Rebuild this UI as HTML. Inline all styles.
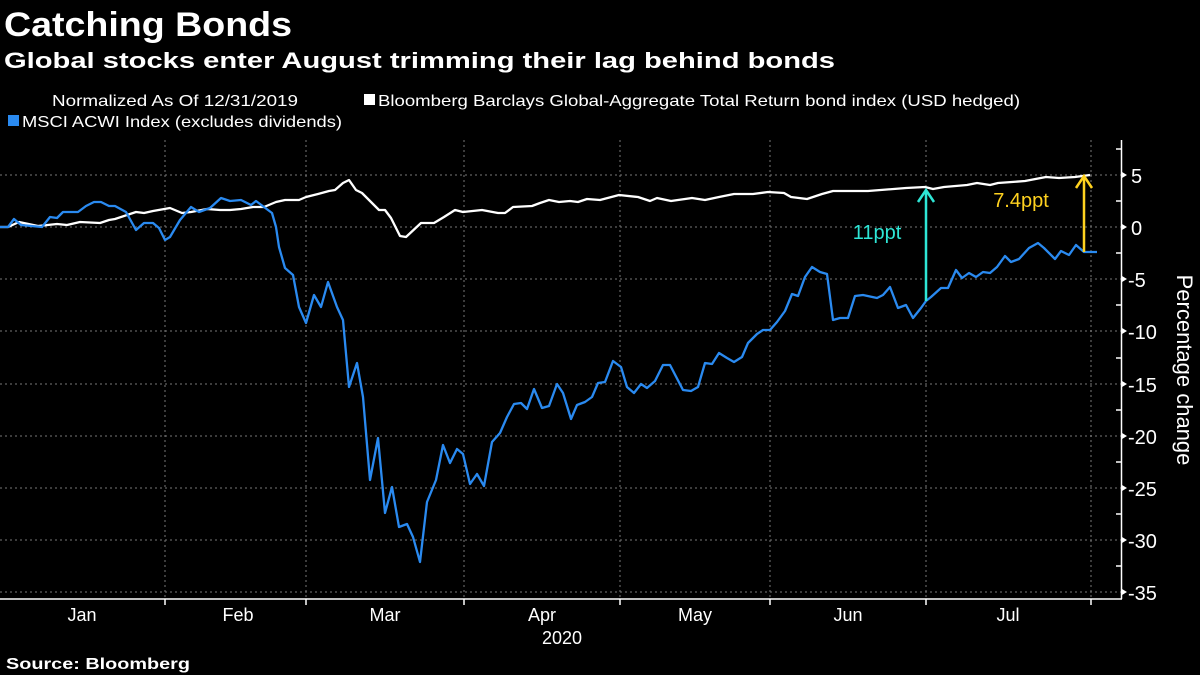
<!DOCTYPE html>
<html><head><meta charset="utf-8"><style>
html,body{margin:0;padding:0;background:#000;}
svg{display:block;}
text{font-family:"Liberation Sans",sans-serif;fill:#fff;}
</style></head><body>
<svg width="1200" height="675" viewBox="0 0 1200 675" xmlns="http://www.w3.org/2000/svg">
<rect width="1200" height="675" fill="#000"/>
<text x="4" y="36" font-size="34" font-weight="bold" textLength="288" lengthAdjust="spacingAndGlyphs">Catching Bonds</text>
<text x="4" y="68" font-size="22" font-weight="bold" textLength="831" lengthAdjust="spacingAndGlyphs">Global stocks enter August trimming their lag behind bonds</text>
<text x="52" y="106" font-size="16" textLength="246" lengthAdjust="spacingAndGlyphs">Normalized As Of 12/31/2019</text>
<rect x="364" y="94" width="11" height="11" fill="#fff"/>
<text x="378" y="106" font-size="16" textLength="642" lengthAdjust="spacingAndGlyphs">Bloomberg Barclays Global-Aggregate Total Return bond index (USD hedged)</text>
<rect x="8" y="115" width="11" height="11" fill="#2a8af0"/>
<text x="22" y="127" font-size="16" textLength="320" lengthAdjust="spacingAndGlyphs">MSCI ACWI Index (excludes dividends)</text>
<g stroke="#777" stroke-width="1" stroke-dasharray="2,3">
<line x1="0" y1="175" x2="1121" y2="175"/>
<line x1="0" y1="227" x2="1121" y2="227"/>
<line x1="0" y1="279" x2="1121" y2="279"/>
<line x1="0" y1="331" x2="1121" y2="331"/>
<line x1="0" y1="384" x2="1121" y2="384"/>
<line x1="0" y1="436" x2="1121" y2="436"/>
<line x1="0" y1="488" x2="1121" y2="488"/>
<line x1="0" y1="540" x2="1121" y2="540"/>
<line x1="0" y1="592" x2="1121" y2="592"/>
<line x1="165" y1="140" x2="165" y2="599"/>
<line x1="306" y1="140" x2="306" y2="599"/>
<line x1="464" y1="140" x2="464" y2="599"/>
<line x1="620" y1="140" x2="620" y2="599"/>
<line x1="770" y1="140" x2="770" y2="599"/>
<line x1="926" y1="140" x2="926" y2="599"/>
<line x1="1091" y1="140" x2="1091" y2="599"/>
</g>
<g stroke="#fff" stroke-width="1.5" fill="none">
<line x1="0" y1="599" x2="1122" y2="599"/>
<line x1="1121.5" y1="140" x2="1121.5" y2="599"/>
<line x1="165" y1="599" x2="165" y2="605"/>
<line x1="306" y1="599" x2="306" y2="605"/>
<line x1="464" y1="599" x2="464" y2="605"/>
<line x1="620" y1="599" x2="620" y2="605"/>
<line x1="770" y1="599" x2="770" y2="605"/>
<line x1="926" y1="599" x2="926" y2="605"/>
<line x1="1091" y1="599" x2="1091" y2="605"/>
<line x1="1116" y1="149" x2="1121" y2="149"/>
<line x1="1116" y1="201" x2="1121" y2="201"/>
<line x1="1116" y1="253" x2="1121" y2="253"/>
<line x1="1116" y1="305" x2="1121" y2="305"/>
<line x1="1116" y1="358" x2="1121" y2="358"/>
<line x1="1116" y1="410" x2="1121" y2="410"/>
<line x1="1116" y1="462" x2="1121" y2="462"/>
<line x1="1116" y1="514" x2="1121" y2="514"/>
<line x1="1116" y1="566" x2="1121" y2="566"/>
</g>
<g fill="#fff">
<path d="M1122 172 l5 3 l-5 3z"/><path d="M1122 224 l5 3 l-5 3z"/><path d="M1122 276 l5 3 l-5 3z"/>
<path d="M1122 328 l5 3 l-5 3z"/><path d="M1122 381 l5 3 l-5 3z"/><path d="M1122 433 l5 3 l-5 3z"/>
<path d="M1122 485 l5 3 l-5 3z"/><path d="M1122 537 l5 3 l-5 3z"/><path d="M1122 589 l5 3 l-5 3z"/>
</g>
<g font-size="20">
<text x="1131" y="183">5</text>
<text x="1131" y="235">0</text>
<text x="1128" y="287">-5</text>
<text x="1128" y="339">-10</text>
<text x="1128" y="392">-15</text>
<text x="1128" y="444">-20</text>
<text x="1128" y="496">-25</text>
<text x="1128" y="548">-30</text>
<text x="1128" y="600">-35</text>
</g>
<text transform="translate(1177,370) rotate(90)" font-size="22" text-anchor="middle">Percentage change</text>
<g font-size="18" text-anchor="middle">
<text x="82" y="621">Jan</text>
<text x="238" y="621">Feb</text>
<text x="385" y="621">Mar</text>
<text x="542" y="621">Apr</text>
<text x="695" y="621">May</text>
<text x="848" y="621">Jun</text>
<text x="1008" y="621">Jul</text>
<text x="562" y="644">2020</text>
</g>
<text x="6" y="669" font-size="16" font-weight="bold" textLength="184" lengthAdjust="spacingAndGlyphs">Source: Bloomberg</text>
<polyline fill="none" stroke="#fff" stroke-width="2.3" stroke-linejoin="round" points="0,227 8,227 19,222 38,226 57,224 67,225 80,222 100,223 109,220 115,219 136,212 144,213 153,211 170,208 182,213 191,212 207,209 220,210 230,210 241,209 253,207 264,207 276,202 285,200 299,200 306,197 318,194 329,191 335,190 343,183 349,180 356,190 362,193 379,210 385,210 391,218 400,236 406,237 421,223 434,223 444,217 455,210 463,212 482,210 498,213 505,213 513,207 532,206 540,203 549,200 559,202 570,201 578,202 587,199 600,200 619,195 638,197 650,201 657,198 671,201 692,198 705,200 719,197 734,194 753,194 768,192 784,193 791,197 807,199 822,194 833,191 868,191 906,188 925,187 933,189 944,187 967,185 977,183 990,185 998,183 1025,181 1046,177 1059,178 1075,177 1090,175"/>
<polyline fill="none" stroke="#2a8af0" stroke-width="2.3" stroke-linejoin="round" points="0,227 8,227 14,219 21,225 42,227 50,217 57,218 63,212 78,212 86,206 94,202 101,202 109,206 115,206 126,212 136,230 144,223 153,223 159,228 165,240 170,237 180,220 191,207 199,212 210,208 221,198 230,201 241,200 251,205 256,201 264,207 272,213 276,227 279,247 285,268 293,275 299,307 306,323 314,295 321,307 328,282 337,307 343,320 349,387 357,363 363,397 370,480 378,438 385,513 392,487 399,527 407,524 413,537 420,562 427,502 436,480 443,445 450,463 457,449 463,454 470,484 477,474 484,486 492,442 500,433 507,417 514,404 521,403 527,409 534,389 542,408 549,406 557,384 563,393 571,419 577,405 585,402 592,397 598,383 605,382 613,361 621,367 627,387 634,393 641,384 647,388 655,381 663,365 670,365 683,390 691,391 698,387 705,363 712,364 719,353 727,358 734,362 742,357 748,343 757,334 763,330 770,330 777,322 785,311 792,294 798,296 805,277 812,267 820,272 827,274 833,320 840,318 848,318 855,296 863,295 877,298 883,295 890,287 898,308 906,305 913,318 921,308 926,301 931,297 941,288 948,288 956,270 962,278 969,273 976,277 983,272 990,273 997,267 1005,256 1011,262 1019,259 1029,248 1038,243 1044,248 1055,259 1061,251 1069,255 1076,245 1084,252 1097,252"/>
<g stroke="#2ee6d6" stroke-width="2.5" fill="none">
<line x1="926" y1="301" x2="926" y2="190"/>
<polyline points="918,202 926,190 934,202"/>
</g>
<text x="877" y="239" font-size="20" style="fill:#2ee6d6" text-anchor="middle">11ppt</text>
<g stroke="#ffd21f" stroke-width="2.5" fill="none">
<line x1="1084" y1="252" x2="1084" y2="176"/>
<polyline points="1076,188 1084,176 1092,188"/>
</g>
<text x="1021" y="207" font-size="20" style="fill:#ffd21f" text-anchor="middle">7.4ppt</text>
</svg>
</body></html>
